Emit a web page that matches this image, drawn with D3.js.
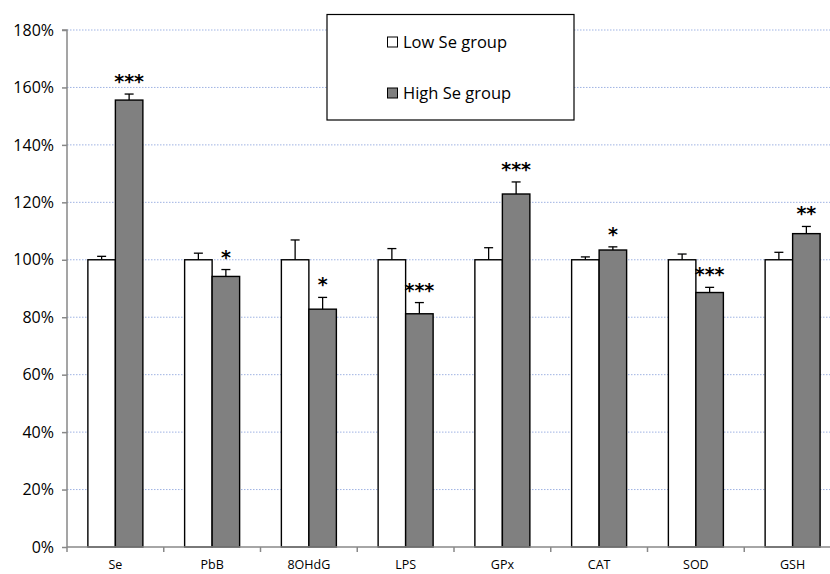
<!DOCTYPE html>
<html><head><meta charset="utf-8">
<script src="https://cdn.jsdelivr.net/npm/d3@7"></script>
<style>body{margin:0;background:#fff}svg{display:block;font-family:"Open Sans","Liberation Sans",sans-serif}</style>
</head><body><svg id="c" width="830" height="574"></svg>
<script>
const categories = ["Se","PbB","8OHdG","LPS","GPx","CAT","SOD","GSH"];
const lowValues = [100,100,100,100,100,100,100,100];
const lowErrors = [1.2,2.3,6.9,3.9,4.2,1.0,2.0,2.6];
const highValues = [155.6,94.2,82.8,81.2,122.9,103.4,88.6,109.1];
const highErrors = [2.1,2.4,4.1,3.9,4.2,1.1,1.8,2.5];
const stars = ["***","*","*","***","***","*","***","**"];
const yTicks = [0,20,40,60,80,100,120,140,160,180];
const seriesNames = ["Low Se group","High Se group"];

const svg = d3.select("#c");
const mLeft = 67, mTop = 30, mBottom = 547, mRight = 841;
const x = d3.scaleBand().domain(categories).range([mLeft, mRight]).paddingInner(0).paddingOuter(0);
const y = d3.scaleLinear().domain([0,180]).range([mBottom, mTop]);
const bw = 27.5;

// gridlines
svg.append("g").selectAll("line").data(yTicks.filter(d=>d>0)).join("line")
  .attr("x1", mLeft).attr("x2", 830).attr("y1", d=>y(d)).attr("y2", d=>y(d))
  .attr("stroke", "#9fb3e3").attr("stroke-width", 1).attr("stroke-dasharray", "1.5,1.5");

// bars
const groups = svg.append("g").selectAll("g").data(categories).join("g");
groups.append("rect")
  .attr("x", d=>x(d)+x.bandwidth()/2-bw).attr("width", bw)
  .attr("y", (d,i)=>y(lowValues[i])).attr("height", (d,i)=>mBottom-y(lowValues[i]))
  .attr("fill", "#fff").attr("stroke", "#000").attr("stroke-width", 1.4);
groups.append("rect")
  .attr("x", d=>x(d)+x.bandwidth()/2).attr("width", bw)
  .attr("y", (d,i)=>y(highValues[i])).attr("height", (d,i)=>mBottom-y(highValues[i]))
  .attr("fill", "#808080").attr("stroke", "#000").attr("stroke-width", 1.4);

function errBar(g, cx, v, e){
  g.append("line").attr("x1",cx).attr("x2",cx).attr("y1",y(v)).attr("y2",y(v+e)).attr("stroke","#000").attr("stroke-width",1.3);
  g.append("line").attr("x1",cx-4.5).attr("x2",cx+4.5).attr("y1",y(v+e)).attr("y2",y(v+e)).attr("stroke","#000").attr("stroke-width",1.3);
}
groups.each(function(d,i){
  const g = d3.select(this);
  const c = x(d)+x.bandwidth()/2;
  errBar(g, c-bw/2, lowValues[i], lowErrors[i]);
  errBar(g, c+bw/2, highValues[i], highErrors[i]);
  g.append("text").attr("x", c+bw/2).attr("y", y(highValues[i]+highErrors[i])-6)
    .attr("text-anchor","middle").attr("font-size",19).attr("font-weight","bold")
    .attr("font-family","'DejaVu Sans',sans-serif").text(stars[i]);
});

// axes
const yAxis = svg.append("g").attr("transform",`translate(${mLeft},0)`)
  .call(d3.axisLeft(y).tickValues(yTicks).tickFormat(d=>d+"%").tickSize(5).tickPadding(8));
yAxis.select(".domain").attr("stroke","#888").attr("stroke-width",1.5).attr("d",`M-5,${mTop}H0V${mBottom}`);
yAxis.selectAll(".tick line").attr("stroke","#888").attr("stroke-width",1.5);
yAxis.selectAll("text").attr("font-size",16).attr("fill","#000").attr("font-family","'Open Sans',sans-serif");

const xAxis = svg.append("g").attr("transform",`translate(0,${mBottom})`);
xAxis.append("line").attr("x1",mLeft).attr("x2",830).attr("stroke","#888").attr("stroke-width",1.5);
xAxis.selectAll("line.t").data(d3.range(categories.length+1)).join("line").attr("class","t")
  .attr("x1",i=>mLeft+i*x.step()).attr("x2",i=>mLeft+i*x.step()).attr("y1",0).attr("y2",5)
  .attr("stroke","#888").attr("stroke-width",1.5);
xAxis.selectAll("text").data(categories).join("text")
  .attr("x", d=>x(d)+x.bandwidth()/2).attr("y", 22).attr("text-anchor","middle")
  .attr("font-size",12.5).attr("fill","#000").text(d=>d);

// legend
const lg = svg.append("g");
lg.append("rect").attr("x",327).attr("y",14.5).attr("width",247).attr("height",105.5)
  .attr("fill","#fff").attr("stroke","#000").attr("stroke-width",1.2);
const fills = ["#fff","#808080"];
seriesNames.forEach((n,i)=>{
  const cy = 42 + i*51;
  lg.append("rect").attr("x",387.5).attr("y",cy-5).attr("width",10).attr("height",10)
    .attr("fill",fills[i]).attr("stroke","#000").attr("stroke-width",1);
  lg.append("text").attr("x",403).attr("y",cy+6).attr("font-size",16.5).attr("fill","#000").text(n);
});
</script></body></html>
